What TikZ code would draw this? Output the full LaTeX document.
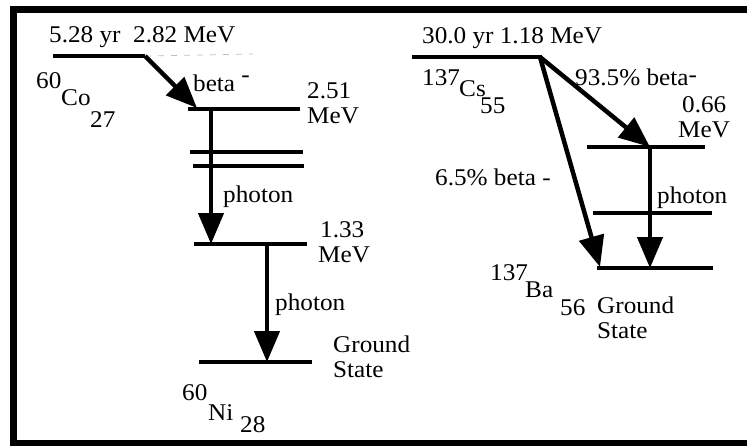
\documentclass[tikz,border=0pt]{standalone}
\usepackage{fontspec}
\setmainfont{Liberation Serif}[FakeStretch=1.05]
\usepackage{tikz}
\usetikzlibrary{arrows.meta}

\tikzset{
  level/.style={line width=4.5pt},
  decay/.style={line width=4.5pt, -{Triangle[length=31pt, width=25pt]}},
  lbl/.style={inner sep=0pt, anchor=base west, font=\fontsize{24}{25}\selectfont},
}

\begin{document}
\begin{tikzpicture}[x=1pt, y=-1pt]
        \useasboundingbox (0,0) rectangle (747,445);
        \clip (0,0) rectangle (747,445);
        % Frame
        \draw[line width=7pt] (760,9.5) -- (13.5,9.5) -- (13.5,443.5) -- (760,443.5);

        % Define the levels (Co-60 side)
        \coordinate (co0a) at (53,56);
        \coordinate (co0b) at (145,56);
        \coordinate (co1a) at (188,109);
        \coordinate (co1b) at (300,109);
        \coordinate (co1s) at (211,109);
        \coordinate (co1t) at (197,108);
        \coordinate (co2a) at (190,152);
        \coordinate (co2b) at (303,152);
        \coordinate (co3a) at (193,166);
        \coordinate (co3b) at (304,166);
        \coordinate (co4a) at (194,244);
        \coordinate (co4b) at (307,244);
        \coordinate (co4t) at (211,244);
        \coordinate (co4s) at (267,244);
        \coordinate (co5a) at (199,362);
        \coordinate (co5b) at (312,362);
        \coordinate (co5t) at (267,362);
        \coordinate (codash) at (253,54);

        % Define the levels (Cs-137 side)
        \coordinate (cs0a) at (412,57);
        \coordinate (cs0b) at (542,57);
        \coordinate (cs0s) at (540,57);
        \coordinate (cs1a) at (587,147);
        \coordinate (cs1b) at (705,147);
        \coordinate (cs1t) at (650,147);
        \coordinate (cs2a) at (593,213);
        \coordinate (cs2b) at (712,213);
        \coordinate (cs3a) at (597,268);
        \coordinate (cs3b) at (713,268);
        \coordinate (cs3t) at (650,268);
        \coordinate (cs3u) at (600,267);

        % Draw the levels
        \draw[gray!50, line width=0.8pt, dash pattern=on 6pt off 7pt] (co0b) -- (codash);
        \draw[level] (co0a) -- (co0b);
        \draw[level] (co1a) -- (co1b);
        \draw[level] (co2a) -- (co2b);
        \draw[level] (co3a) -- (co3b);
        \draw[level] (co4a) -- (co4b);
        \draw[level] (co5a) -- (co5b);
        \draw[level] (cs0a) -- (cs0b);
        \draw[level] (cs1a) -- (cs1b);
        \draw[level] (cs2a) -- (cs2b);
        \draw[level] (cs3a) -- (cs3b);

        % Draw the arrows
        \draw[decay] (co0b) -- (co1t);
        \draw[decay] (co1s) -- (co4t);
        \draw[decay] (co4s) -- (co5t);
        \draw[decay] (cs0s) -- (cs1t);
        \draw[decay] (cs1t) -- (cs3t);
        \draw[decay] (cs0s) -- (cs3u);

        % Labels (Co-60 side)
        \node[lbl] (cohl) at (49,42) {5.28 yr~~2.82 MeV};
        \node[lbl] (coA) at (36,88) {60};
        \node[lbl] (coZ) at (61,105) {Co};
        \node[lbl] (coN) at (90,127) {27};
        \node[lbl] (beta1) at (193,91) {beta \raisebox{9pt}{-}};
        \node[lbl] (e251) at (307,98) {2.51};
        \node[lbl] (m251) at (307,123) {MeV};
        \node[lbl] (ph1) at (223,202) {photon};
        \node[lbl] (e133) at (320,237) {1.33};
        \node[lbl] (m133) at (318,262) {MeV};
        \node[lbl] (ph2) at (275,310) {photon};
        \node[lbl] (gs1) at (333,352) {Ground};
        \node[lbl] (st1) at (333,377) {State};
        \node[lbl] (niA) at (182,400) {60};
        \node[lbl] (niZ) at (208,420) {Ni};
        \node[lbl] (niN) at (240,432) {28};

        % Labels (Cs-137 side)
        \node[lbl] (cshl) at (422,43) {30.0 yr 1.18 MeV};
        \node[lbl] (csA) at (422,85) {137};
        \node[lbl] (csZ) at (459,96) {Cs};
        \node[lbl] (csN) at (480,113) {55};
        \node[lbl] (beta2) at (575,85) {93.5\% beta\raisebox{3pt}{-}};
        \node[lbl] (e066) at (682,112) {0.66};
        \node[lbl] (m066) at (678,137) {MeV};
        \node[lbl] (ph3) at (657,203) {photon};
        \node[lbl] (beta3) at (435,185) {6.5\% beta -};
        \node[lbl] (baA) at (490,280) {137};
        \node[lbl] (baZ) at (525,297) {Ba};
        \node[lbl] (baN) at (560,315) {56};
        \node[lbl] (gs2) at (597,313) {Ground};
        \node[lbl] (st2) at (597,338) {State};
    \end{tikzpicture}
\end{document}
